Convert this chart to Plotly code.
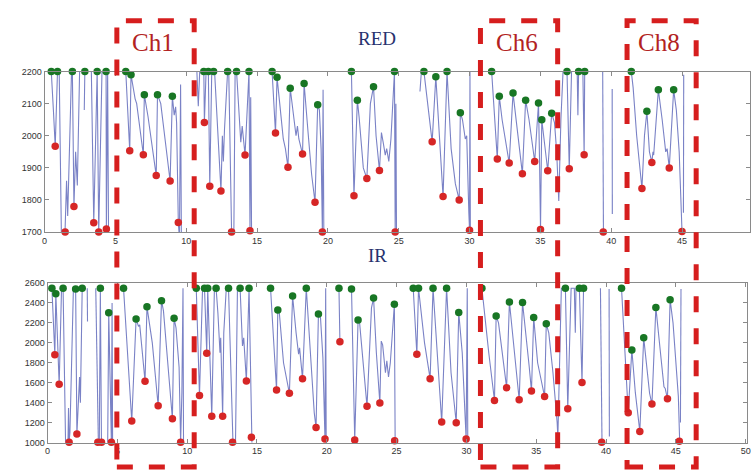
import plotly.graph_objects as go

# ---------------- data ----------------
red_line = [
    (0.28, 2200), (0.47, 2200), (0.62, 2080), (0.75, 1967), (0.91, 2200), (1.03, 2200), (1.2, 1640), None,
    (1.40, 1640), (1.45, 1700), (1.55, 1860), (1.63, 1750), (1.90, 2200), (1.96, 2200), (2.07, 1780),
    (2.19, 1950), (2.31, 1845), (2.47, 2200), (2.6, 2200), None,
    (2.80, 2080), (2.84, 2200), (3.3, 2200), (3.47, 1729), (3.71, 2200), (3.82, 1700), (4.05, 2200),
    (4.34, 2200), (4.36, 1710), (4.45, 2195), (4.52, 1640), None,
    (5.6, 2200), (5.73, 2200), (6.01, 1953), (6.1, 2190), (6.39, 2115), (6.5, 2100), (6.97, 1941),
    (7.04, 2128), (7.3, 2060), (7.88, 1876), (7.97, 2128), (8.2, 2100), (8.86, 1859), (9.02, 2123),
    (9.15, 2064), (9.25, 2090), (9.32, 2040), (9.44, 1730), (9.52, 1680), (9.6, 2160), (9.66, 1640), None,
    (10.75, 2200), (10.85, 2092), (10.95, 2200), (11.24, 2200), (11.28, 2041), (11.4, 2200), (11.56, 2200),
    (11.66, 1843), (11.8, 2200), (11.93, 2200), (12.0, 2200), (12.45, 1828), (12.55, 2000), (12.62, 1920),
    (12.7, 2020), (12.92, 2200), (13.0, 2200), (13.2, 1700), (13.25, 1640), None,
    (13.35, 1640), (13.45, 2200), (13.55, 2200), (13.85, 1980), (13.95, 2030), (14.15, 1940), (14.43, 2200),
    (14.5, 1704), (14.55, 2120), (14.62, 1640), None,
    (15.95, 2200), (16.06, 2200), (16.3, 2009), (16.41, 2182), (16.6, 2100), (16.85, 1990), (17.0, 1960),
    (17.18, 1902), (17.34, 2148), (17.55, 2080), (17.75, 2000), (17.85, 2030), (17.95, 1990), (18.21, 1943),
    (18.32, 2163), (18.6, 2010), (18.85, 1880), (19.09, 1793), (19.28, 2097), (19.4, 2080), (19.52, 1960),
    (19.61, 1700), (19.66, 2143), (19.72, 1640), None,
    (21.6, 2200), (21.66, 2200), (21.84, 1813), (22.08, 2111), (22.2, 2060), (22.5, 1900), (22.75, 1867),
    (23.0, 2100), (23.22, 2153), (23.4, 2000), (23.64, 1892), (23.78, 2010), (23.9, 1980), (24.05, 1940),
    (24.15, 1960), (24.3, 1920), (24.45, 1990), (24.6, 2100), (24.7, 2200), (24.75, 1700), (24.8, 2100),
    (24.85, 1640), None,
    (26.5, 2138), (26.6, 2200), (26.78, 2200), (27.36, 1981), (27.62, 2184), (28.13, 1811), (28.41, 2200),
    (28.7, 1960), (29.0, 1850), (29.27, 1800), (29.35, 2072), (29.5, 2050), (29.7, 1990), (29.8, 2000),
    (29.95, 1760), (30.0, 1706), (30.03, 2200), (30.06, 1640), None,
    (31.45, 2200), (31.56, 2200), (31.96, 1928), (32.1, 2123), (32.3, 2050), (32.8, 1915), (33.07, 2133),
    (33.3, 2050), (33.73, 1882), (33.96, 2111), (34.2, 2050), (34.6, 1920), (34.87, 2102), (34.95, 1900),
    (35.01, 1708), (35.06, 1900), (35.1, 2050), (35.52, 1891), (35.8, 2070), (36.0, 2040), (36.15, 1950),
    (36.3, 1797), (36.45, 2050), (36.6, 2200), (36.88, 2200), (37.04, 1897), (37.2, 2200), (37.6, 2200),
    (37.65, 2064), (37.7, 2200), (38.0, 2200), (38.09, 1941), (38.13, 2200), (38.2, 2200), None,
    (39.4, 2200), (39.44, 1700), (39.46, 1640), None,
    (40.07, 2146), (40.08, 1756), None,
    (41.3, 2200), (41.42, 2200), (41.55, 2150), (41.8, 2000), (42.17, 1836), (42.35, 2000), (42.52, 2076),
    (42.7, 1950), (42.87, 1917), (42.95, 1950), (43.0, 1940), (43.33, 2143), (43.6, 2050), (43.85, 1950),
    (43.95, 1960), (44.1, 1900), (44.41, 2143), (44.6, 2080), (44.8, 1950), (44.95, 1760), (45.0, 1702),
    (45.05, 1640), None,
    (45.1, 1760), (45.12, 2190),
]
red_peaks = [
    (0.47, 2200), (0.91, 2200), (1.96, 2200), (2.84, 2200), (3.71, 2200), (4.34, 2200), (5.73, 2200),
    (6.1, 2190), (7.04, 2128), (7.97, 2128), (9.02, 2123), (11.24, 2200), (11.56, 2200), (11.93, 2200),
    (12.92, 2200), (13.55, 2200), (14.43, 2200), (16.06, 2200), (16.41, 2182), (17.34, 2148), (18.32, 2163),
    (19.28, 2097), (21.66, 2200), (22.08, 2111), (23.22, 2153), (24.7, 2200), (26.78, 2200), (27.62, 2184),
    (28.41, 2200), (29.35, 2072), (31.56, 2200), (32.1, 2123), (33.07, 2133), (33.96, 2111), (34.87, 2102),
    (35.1, 2050), (35.8, 2070), (36.88, 2200), (37.7, 2200), (38.13, 2200), (41.42, 2200), (42.52, 2076),
    (43.33, 2143), (44.41, 2143),
]
red_troughs = [
    (0.75, 1967), (1.45, 1700), (2.07, 1780), (3.47, 1729), (3.82, 1700), (4.36, 1710), (6.01, 1953),
    (6.97, 1941), (7.88, 1876), (8.86, 1859), (9.44, 1730), (11.28, 2041), (11.66, 1843), (12.45, 1828),
    (13.2, 1700), (14.15, 1940), (14.5, 1704), (16.3, 2009), (17.18, 1902), (18.21, 1943), (19.09, 1793),
    (19.61, 1700), (21.84, 1813), (22.75, 1867), (23.64, 1892), (24.75, 1700), (27.36, 1981), (28.13, 1811),
    (29.27, 1800), (30.0, 1706), (31.96, 1928), (32.8, 1915), (33.73, 1882), (34.6, 1920), (35.01, 1708),
    (35.52, 1891), (37.04, 1897), (38.09, 1941), (39.44, 1700), (42.17, 1836), (42.87, 1917), (44.1, 1900),
    (45.0, 1702),
]

ir_line = [
    (0.2, 2547), (0.31, 2547), (0.52, 1880), (0.59, 2492), (0.83, 1585), (1.0, 2547), (1.11, 2547), (1.3, 900), None,
    (1.45, 900), (1.5, 1346), (1.54, 1003), (1.6, 1100), (1.85, 2547), (2.01, 2541), (2.1, 1085), (2.2, 1500),
    (2.29, 1657), (2.35, 1400), (2.45, 2547), (2.48, 2547), (2.6, 2547), None,
    (2.84, 2547), (2.86, 2213), None,
    (3.45, 2547), (3.6, 1003), (3.65, 900), None,
    (3.7, 900), (3.78, 2547), (3.86, 1003), (3.92, 900), None,
    (4.3, 900), (4.38, 2302), (4.57, 1003), (4.62, 2400), (4.66, 900), None,
    (5.3, 2547), (5.44, 2547), (6.03, 1216), (6.34, 2240), (6.51, 2165), (6.6, 2180), (6.98, 1615),
    (7.12, 2361), (7.5, 2000), (7.92, 1369), (8.16, 2423), (8.3, 2320), (8.94, 1239), (9.06, 2246),
    (9.2, 2150), (9.42, 1756), (9.53, 1003), (9.62, 1500), (9.7, 2547), (9.74, 900), None,
    (10.55, 2547), (10.65, 2547), (10.88, 1471), (11.1, 2547), (11.24, 2547), (11.4, 1896), (11.47, 2547),
    (11.76, 1265), (11.95, 2547), (12.07, 2547), (12.2, 2300), (12.35, 1900), (12.4, 2050), (12.54, 1265),
    (12.62, 2100), (12.8, 2547), (12.96, 2547), (13.25, 1003), (13.3, 900), None,
    (13.45, 900), (13.6, 2547), (13.79, 2547), (13.96, 1968), (14.05, 2050), (14.24, 1618), (14.43, 2547),
    (14.6, 1052), (14.65, 900), None,
    (15.85, 2547), (15.97, 2547), (16.4, 1527), (16.49, 2328), (16.6, 2300), (16.9, 1800), (17.32, 1494),
    (17.55, 2469), (17.8, 2100), (17.98, 1886), (18.05, 1950), (18.12, 1830), (18.26, 1641), (18.53, 2547),
    (18.9, 1800), (19.1, 1300), (19.23, 1150), (19.4, 2289), (19.55, 2250), (19.72, 1850), (19.87, 1036),
    (19.92, 2547), (19.96, 900), None,
    (20.85, 2547), (20.87, 2547), (20.94, 2011), None,
    (21.7, 2547), (21.77, 2541), (22.0, 1026), (22.24, 2230), (22.35, 2200), (22.88, 1363), (23.2, 2350),
    (23.35, 2449), (23.55, 1900), (23.8, 1396), (23.9, 2017), (24.0, 1980), (24.2, 1700), (24.3, 1820),
    (24.42, 1657), (24.55, 1800), (24.84, 2387), (24.86, 1019), (24.9, 900), None,
    (26.1, 2547), (26.19, 2547), (26.45, 1886), (26.57, 2547), (27.0, 2000), (27.4, 1641), (27.61, 2547),
    (27.9, 1900), (28.23, 1206), (28.58, 2547), (28.9, 1700), (29.27, 1199), (29.45, 2305), (29.7, 1900),
    (29.98, 1036), (30.06, 2547), (30.1, 900), None,
    (31.05, 2547), (31.11, 2547), (31.6, 1900), (32.01, 1422), (32.13, 2269), (32.3, 2200), (32.88, 1550),
    (33.08, 2410), (33.78, 1429), (34.02, 2404), (34.49, 1772), (34.66, 1517), (34.82, 2253), (35.1, 1800),
    (35.6, 1461), (35.72, 2191), (35.9, 2100), (36.2, 1700), (36.5, 1200), (36.55, 1050), (36.8, 2547),
    (37.09, 2548), (37.26, 1340), (37.5, 2547), (37.73, 2547), (37.8, 2100), (37.85, 2547), (38.09, 2547),
    (38.28, 1602), (38.39, 2547), None,
    (39.6, 2547), (39.69, 1003), (39.72, 900), None,
    (40.22, 2540), (40.24, 1060), None,
    (41.05, 2547), (41.11, 2547), (41.59, 1298), (41.85, 1929), (42.1, 1500), (42.42, 1111), (42.7, 2050),
    (43.12, 1494), (43.29, 1386), (43.57, 2355), (43.9, 1900), (44.15, 1560), (44.24, 1543), (44.4, 1439),
    (44.59, 2433), (44.8, 2200), (45.18, 1461), (45.25, 1013), (45.3, 900), None,
    (45.33, 1200), (45.37, 2540),
]
ir_peaks = [
    (0.31, 2547), (0.59, 2492), (1.11, 2547), (2.01, 2541), (2.48, 2547), (3.78, 2547), (4.38, 2302),
    (5.44, 2547), (6.34, 2240), (7.12, 2361), (8.16, 2423), (9.06, 2246), (10.65, 2547), (11.24, 2547),
    (11.47, 2547), (12.07, 2547), (12.96, 2547), (13.79, 2547), (14.43, 2547), (15.97, 2547), (16.49, 2328),
    (17.55, 2469), (18.53, 2547), (19.4, 2289), (20.87, 2547), (21.77, 2541), (22.24, 2230), (23.35, 2449),
    (24.84, 2387), (26.19, 2547), (26.57, 2547), (27.61, 2547), (28.58, 2547), (29.45, 2305), (31.11, 2547),
    (32.13, 2269), (33.08, 2410), (34.02, 2404), (34.82, 2253), (35.72, 2191), (37.09, 2548), (38.09, 2547),
    (38.39, 2547), (41.11, 2547), (41.85, 1929), (42.7, 2050), (43.57, 2355), (44.59, 2433),
]
ir_troughs = [
    (0.52, 1880), (0.83, 1585), (1.54, 1003), (2.1, 1085), (3.6, 1003), (3.86, 1003), (4.57, 1003),
    (6.03, 1216), (6.98, 1615), (7.92, 1369), (8.94, 1239), (9.53, 1003), (10.88, 1471), (11.4, 1896),
    (11.76, 1265), (12.54, 1265), (13.25, 1003), (14.24, 1618), (14.6, 1052), (16.4, 1527), (17.32, 1494),
    (18.26, 1641), (19.23, 1150), (19.87, 1036), (20.94, 2011), (22.0, 1026), (22.88, 1363), (23.8, 1396),
    (24.86, 1019), (26.45, 1886), (27.4, 1641), (28.23, 1206), (29.27, 1199), (29.98, 1036), (32.01, 1422),
    (32.88, 1550), (33.78, 1429), (34.66, 1517), (35.6, 1461), (37.26, 1340), (38.28, 1602), (39.69, 1003),
    (41.59, 1298), (42.42, 1111), (43.29, 1386), (44.4, 1439), (45.25, 1013),
]

x_ticks = [0, 5, 10, 15, 20, 25, 30, 35, 40, 45, 50]
red_ticks = [1700, 1800, 1900, 2000, 2100, 2200]
ir_ticks = [1000, 1200, 1400, 1600, 1800, 2000, 2200, 2400, 2600]
panel_titles = ["RED", "IR"]
ch_boxes = [("Ch1", 5.1, 10.56), ("Ch6", 30.77, 36.22), ("Ch8", 41.12, 46.0)]

# ---------------- figure ----------------
W, H = 754, 473
LINE = "rgb(122,130,198)"
GREEN = "rgb(24,118,36)"
REDC = "rgb(214,38,38)"


def unzip(seq):
    xs, ys = [], []
    for p in seq:
        if p is None:
            xs.append(None)
            ys.append(None)
        else:
            xs.append(p[0])
            ys.append(p[1])
    return xs, ys


fig = go.Figure()
for line, peaks, troughs, xa, ya in [
    (red_line, red_peaks, red_troughs, "x", "y"),
    (ir_line, ir_peaks, ir_troughs, "x2", "y2"),
]:
    lx, ly = unzip(line)
    fig.add_trace(go.Scatter(x=lx, y=ly, mode="lines", line=dict(color=LINE, width=1.1),
                             connectgaps=False, xaxis=xa, yaxis=ya, showlegend=False, hoverinfo="skip"))
    px_, py_ = unzip(peaks)
    fig.add_trace(go.Scatter(x=px_, y=py_, mode="markers", cliponaxis=False,
                             marker=dict(color=GREEN, size=7.5, line=dict(width=0)),
                             xaxis=xa, yaxis=ya, showlegend=False))
    tx, ty = unzip(troughs)
    fig.add_trace(go.Scatter(x=tx, y=ty, mode="markers", cliponaxis=False,
                             marker=dict(color=REDC, size=7.5, line=dict(width=0)),
                             xaxis=xa, yaxis=ya, showlegend=False))


def dom_x(a, b):
    return [a / W, min(b / W, 1.0)]


def dom_y(top, bottom):
    return [1 - bottom / H, 1 - top / H]


axis_common = dict(showline=True, linecolor="#8a8a8a", linewidth=1, mirror="ticks", ticks="inside",
                   ticklen=4, tickcolor="#8a8a8a", showgrid=False, zeroline=False,
                   tickfont=dict(family="Liberation Sans, Arial", size=9, color="#333333"))

fig.update_layout(
    width=W, height=H, margin=dict(l=0, r=0, t=0, b=0),
    paper_bgcolor="white", plot_bgcolor="white",
    xaxis=dict(domain=dom_x(42, 754), range=[0, 49.8], tickvals=x_ticks, anchor="y", **axis_common),
    yaxis=dict(domain=dom_y(68, 232), range=[1700, 2200], tickvals=red_ticks, anchor="x", **axis_common),
    xaxis2=dict(domain=dom_x(45, 751), range=[0, 50.1], tickvals=x_ticks, anchor="y2", **axis_common),
    yaxis2=dict(domain=dom_y(284, 447), range=[1000, 2600], tickvals=ir_ticks, anchor="x2", **axis_common),
)

# panel titles
for title, ycen in zip(panel_titles, [34, 256]):
    fig.add_annotation(text=title, x=378 / W, y=1 - ycen / H, xref="paper", yref="paper",
                       showarrow=False, xanchor="center", yanchor="middle",
                       font=dict(family="Liberation Serif, Times New Roman", size=19, color="rgb(40,50,110)"))

# channel boxes
for name, x0, x1 in ch_boxes:
    fig.add_shape(type="rect", xref="x", yref="paper", x0=x0, x1=x1, y0=1 - 472 / H, y1=1 - 16 / H,
                  line=dict(color="rgb(214,30,30)", width=5, dash="16px,16px"), fillcolor="rgba(0,0,0,0)",
                  layer="above")
    fig.add_annotation(text=name, x=(x0 + x1) / 2 - 0.15, y=1 - 38 / H, xref="x", yref="paper",
                       showarrow=False, xanchor="center", yanchor="middle",
                       font=dict(family="Liberation Serif, Times New Roman", size=25, color="rgb(178,34,34)"))

fig.write_html(
    "out.html",
    config={"displayModeBar": False},
    post_script="document.body.style.margin='0';document.body.style.padding='0';"
                "document.body.style.overflow='hidden';",
)
